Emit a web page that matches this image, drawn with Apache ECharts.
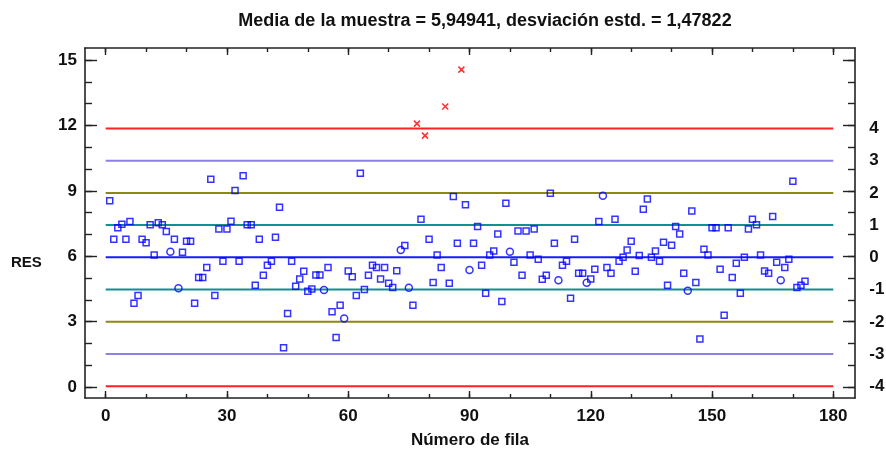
<!DOCTYPE html>
<html>
<head>
<meta charset="utf-8">
<script src="https://cdn.jsdelivr.net/npm/echarts@6/dist/echarts.min.js"></script>
<style>
  html, body { margin: 0; padding: 0; background: #fff; }
  #chart { width: 886px; height: 458px; }
</style>
</head>
<body>
<div id="chart"></div>
<script>
// ---- data ----
const titleText = 'Media de la muestra = 5,94941, desviación estd. = 1,47822';
const sampleMean = 5.94941;
const sampleSd = 1.47822;
const xAxisName = 'Número de fila';
const yAxisName = 'RES';

// RES value for row numbers 1..173
const resValues = [
  8.54, 6.78, 7.31, 7.47, 6.78, 7.59, 3.84, 4.20, 6.78, 6.62,
  7.44, 6.06, 7.54, 7.44, 7.13, 6.21, 6.78, 4.53, 6.18, 6.69,
  6.69, 3.84, 5.03, 5.03, 5.48, 9.53, 4.20, 7.25, 5.77, 7.25,
  7.60, 9.01, 5.77, 9.69, 7.44, 7.44, 4.67, 6.78, 5.13, 5.59,
  5.77, 6.87, 8.25, 1.80, 3.38, 5.77, 4.63, 4.96, 5.31, 4.40,
  4.50, 5.14, 5.14, 4.45, 5.49, 3.46, 2.28, 3.75, 3.15, 5.32,
  5.06, 4.20, 9.81, 4.48, 5.13, 5.59, 5.49, 4.96, 5.49, 4.76,
  4.57, 5.34, 6.29, 6.49, 4.56, 3.75, 12.08, 7.70, 11.53, 6.78,
  4.80, 6.06, 5.49, 12.87, 4.76, 8.74, 6.60, 14.56, 8.36, 5.37,
  6.60, 7.36, 5.59, 4.30, 6.06, 6.24, 7.02, 3.93, 8.43, 6.21,
  5.72, 7.16, 5.13, 7.16, 6.06, 7.25, 5.86, 4.94, 5.13, 8.89,
  6.60, 4.90, 5.59, 5.77, 4.07, 6.78, 5.22, 5.22, 4.79, 4.96,
  5.40, 7.59, 8.77, 5.49, 5.22, 7.70, 5.77, 5.95, 6.29, 6.69,
  5.31, 6.04, 8.16, 8.62, 5.95, 6.24, 5.77, 6.64, 4.67, 6.50,
  7.36, 7.02, 5.22, 4.42, 8.08, 4.80, 2.21, 6.32, 6.06, 7.31,
  7.31, 5.40, 3.29, 7.31, 5.03, 5.68, 4.30, 5.95, 7.25, 7.70,
  7.44, 6.06, 5.32, 5.22, 7.82, 5.72, 4.90, 5.49, 5.86, 9.44,
  4.57, 4.67, 4.85
];
// rows drawn with a circle marker in the reference
const circleRows = [16, 18, 54, 59, 73, 75, 90, 100, 112, 119, 123, 144, 167];

// sigma lines: multiples, labels and colours
const sigmaMultiples = [4, 3, 2, 1, 0, -1, -2, -3, -4];
const sigmaLabels = ['4', '3', '2', '1', '0', '-1', '-2', '-3', '-4'];
const sigmaColors = ['#ff2020', '#8c80e6', '#8a8a10', '#109090', '#1a1aff',
                     '#109090', '#8a8a10', '#8c80e6', '#ff2020'];
const lineStartRow = 0;
const lineEndRow = 180;

// axes ticks
const xLabelTicks = [0, 30, 60, 90, 120, 150, 180];
const xMinorTicks = [0, 10, 20, 30, 40, 50, 60, 70, 80, 90, 100, 110, 120, 130, 140, 150, 160, 170, 180];
const yLabelTicks = [0, 3, 6, 9, 12, 15];
const yMinorTicks = [0, 1, 2, 3, 4, 5, 6, 7, 8, 9, 10, 11, 12, 13, 14, 15];
const xMin = -5.12, xMax = 185.37;
const yMin = -0.5, yMax = 15.55;

// ---- build series ----
const circleSet = new Set(circleRows);
const squarePts = [], circlePts = [], outPts = [];
resValues.forEach((v, i) => {
  const row = i + 1;
  const p = [row, v];
  if (Math.abs(v - sampleMean) > 3 * sampleSd) outPts.push(p);
  else if (circleSet.has(row)) circlePts.push(p);
  else squarePts.push(p);
});

const FONT = 'Liberation Sans, Arial, sans-serif';
const TXT = '#111';
const FS = 17;

function mkX(pos, major, withLabels) {
  return {
    type: 'value', position: pos, min: xMin, max: xMax, gridIndex: 0,
    axisLine: { show: major, onZero: false, lineStyle: { color: '#222', width: 1.6 } },
    axisTick: { show: true, inside: true, length: major ? 7 : 4,
      customValues: major ? xLabelTicks : xMinorTicks,
      lineStyle: { color: '#222', width: 1.4 } },
    axisLabel: withLabels ? { show: true, customValues: xLabelTicks, margin: 10,
      fontSize: FS, fontWeight: 'bold', color: TXT, fontFamily: FONT } : { show: false },
    splitLine: { show: false },
    name: withLabels ? xAxisName : '', nameLocation: 'middle', nameGap: 34,
    nameTextStyle: { fontSize: FS, fontWeight: 'bold', color: TXT, fontFamily: FONT }
  };
}
function mkY(pos, major, withLabels) {
  return {
    type: 'value', position: pos, min: yMin, max: yMax, gridIndex: 0,
    axisLine: { show: major, onZero: false, lineStyle: { color: '#222', width: 1.6 } },
    axisTick: { show: true, inside: true, length: major ? 12 : 7,
      customValues: major ? yLabelTicks : yMinorTicks,
      lineStyle: { color: '#222', width: 1.4 } },
    axisLabel: withLabels ? { show: true, customValues: yLabelTicks, margin: 8,
      fontSize: FS, fontWeight: 'bold', color: TXT, fontFamily: FONT } : { show: false },
    splitLine: { show: false }
  };
}

const sigmaSeries = sigmaMultiples.map((k, i) => {
  const level = sampleMean + k * sampleSd;
  return {
    type: 'line', silent: true, symbol: 'none', z: 1,
    data: [[lineStartRow, level], [lineEndRow, level]],
    lineStyle: { color: sigmaColors[i], width: 2 },
    endLabel: { show: true, formatter: sigmaLabels[i], distance: 36,
      fontSize: FS, fontWeight: 'bold', color: TXT, fontFamily: FONT }
  };
});

const chart = echarts.init(document.getElementById('chart'), null, { renderer: 'canvas' });
chart.setOption({
  animation: false,
  backgroundColor: '#fff',
  title: {
    text: titleText, left: 480, top: 7, textAlign: 'center',
    textStyle: { fontSize: 18, fontWeight: 'bold', color: TXT, fontFamily: FONT }
  },
  graphic: [{
    type: 'text', left: 11, top: 255,
    style: { text: yAxisName, fontSize: 15, fontWeight: 'bold', fill: TXT, fontFamily: FONT }
  }],
  grid: { left: 85, right: 31, top: 48, bottom: 60, show: false },
  xAxis: [mkX('bottom', true, true), mkX('bottom', false, false),
          mkX('top', true, false), mkX('top', false, false)],
  yAxis: [mkY('left', true, true), mkY('left', false, false),
          mkY('right', true, false), mkY('right', false, false)],
  series: sigmaSeries.concat([
    { type: 'scatter', data: squarePts, symbol: 'rect', symbolSize: 6, z: 5,
      itemStyle: { color: 'rgba(255,255,255,0)', borderColor: '#0000ff', borderWidth: 1.5 } },
    { type: 'scatter', data: circlePts, symbol: 'circle', symbolSize: 7, z: 5,
      itemStyle: { color: 'rgba(255,255,255,0)', borderColor: '#0000ff', borderWidth: 1.5 } },
    { type: 'scatter', data: outPts, symbol: 'path://M0,0L10,10M10,0L0,10', symbolSize: 6, z: 6,
      itemStyle: { color: 'rgba(0,0,0,0)', borderColor: '#ff0000', borderWidth: 1.6 } }
  ])
});
</script>
</body>
</html>
